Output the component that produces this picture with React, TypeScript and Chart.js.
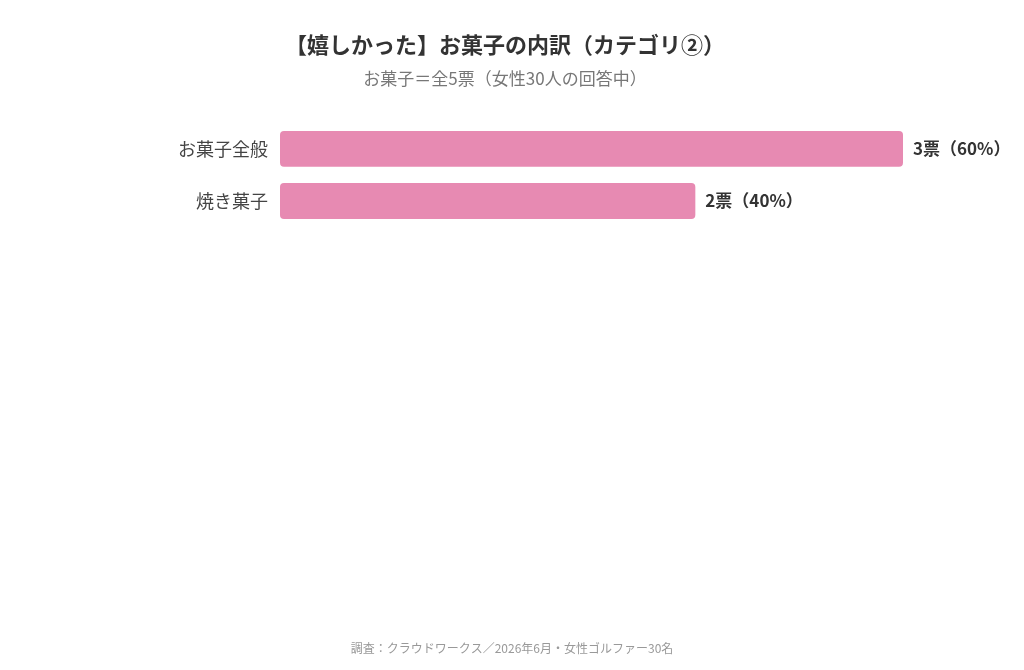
import { useEffect, useRef } from "react";
import { Chart, registerables } from "chart.js";

Chart.register(...registerables);

const categories = ["お菓子全般", "焼き菓子"];
const votes = [3, 2];
const percents = [60, 40];
const titleText = "【嬉しかった】お菓子の内訳（カテゴリ②）";
const subtitleText = "お菓子＝全5票（女性30人の回答中）";
const footerText = "調査：クラウドワークス／2026年6月・女性ゴルファー30名";

const FONT = '"Noto Sans CJK JP", "Noto Sans", sans-serif';

export default function App() {
  const chartRef = useRef<HTMLCanvasElement | null>(null);
  const chartInstance = useRef<Chart | null>(null);

  useEffect(() => {
    if (!chartRef.current) return;
    if (chartInstance.current) chartInstance.current.destroy();
    const ctx = chartRef.current.getContext("2d");
    if (!ctx) return;

    Chart.defaults.font.family = FONT;

    // value labels to the right of each bar
    const valueLabels = {
      id: "valueLabels",
      afterDatasetsDraw(chart: any) {
        const c = chart.ctx;
        const meta = chart.getDatasetMeta(0);
        c.save();
        c.font = `bold 17px ${FONT}`;
        c.fillStyle = "#333333";
        c.textAlign = "left";
        c.textBaseline = "middle";
        meta.data.forEach((bar: any, i: number) => {
          c.fillText(`${votes[i]}票（${percents[i]}%）`, bar.x + 10, bar.y);
        });
        c.restore();
      }
    };

    // source note at the bottom
    const footer = {
      id: "footerNote",
      afterDraw(chart: any) {
        const c = chart.ctx;
        c.save();
        c.font = `12px ${FONT}`;
        c.fillStyle = "#999999";
        c.textAlign = "center";
        c.textBaseline = "middle";
        c.fillText(footerText, chart.width / 2, 648);
        c.restore();
      }
    };

    chartInstance.current = new Chart(ctx, {
      type: "bar",
      data: {
        labels: categories,
        datasets: [
          {
            data: votes,
            backgroundColor: "#e78ab2",
            borderRadius: 4,
            borderSkipped: false,
            categoryPercentage: 1,
            barPercentage: 0.69
          }
        ]
      },
      options: {
        indexAxis: "y",
        animation: false,
        responsive: true,
        maintainAspectRatio: false,
        layout: {
          padding: { top: 12, left: 107, right: 121, bottom: 443 }
        },
        plugins: {
          legend: { display: false },
          tooltip: { enabled: false },
          title: {
            display: true,
            text: titleText,
            color: "#333333",
            font: { size: 22, weight: "bold", family: FONT },
            padding: { top: 19, bottom: 0 }
          },
          subtitle: {
            display: true,
            text: subtitleText,
            color: "#777777",
            font: { size: 17, family: FONT },
            padding: { top: 11, bottom: 34 }
          }
        },
        scales: {
          x: {
            display: false,
            min: 0,
            max: 3
          },
          y: {
            grid: { display: false, drawTicks: false },
            border: { display: false },
            ticks: {
              color: "#444444",
              font: { size: 18, family: FONT },
              padding: 12
            },
            afterFit(scale: any) {
              scale.width = 173;
            }
          }
        }
      },
      plugins: [valueLabels, footer]
    });

    return () => {
      if (chartInstance.current) {
        chartInstance.current.destroy();
        chartInstance.current = null;
      }
    };
  }, []);

  return (
    <div
      style={{
        position: "fixed",
        left: 0,
        top: 0,
        width: 1024,
        height: 670,
        background: "#ffffff"
      }}
    >
      <canvas ref={chartRef} />
    </div>
  );
}
